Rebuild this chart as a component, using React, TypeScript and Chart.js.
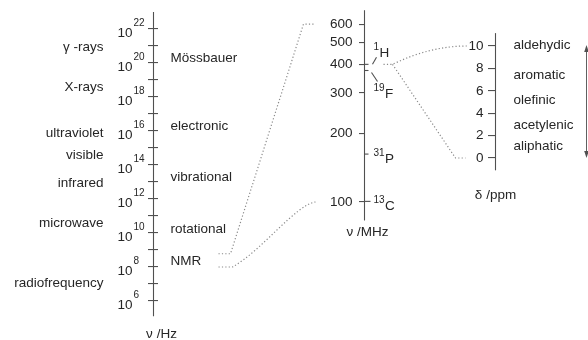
import React, { useEffect, useRef } from 'react';
import { Chart, registerables } from 'chart.js';

Chart.register(...registerables);

// ---------------- data ----------------
// frequency axis (Hz, logarithmic) – exponents of ten
const hzTickExponents = [6, 7, 8, 9, 10, 11, 12, 13, 14, 15, 16, 17, 18, 19, 20, 21, 22];
const hzLabelExponents = [6, 8, 10, 12, 14, 16, 18, 20, 22];
const hzAxisExponents = [5.1, 23];
const regionLabels = ['γ -rays', 'X-rays', 'ultraviolet', 'visible', 'infrared', 'microwave', 'radiofrequency'];
const regionExponents = [20.94, 18.55, 15.86, 14.59, 12.92, 10.57, 7.04];
const transitionLabels = ['Mössbauer', 'electronic', 'vibrational', 'rotational', 'NMR'];
const transitionExponents = [20.27, 16.29, 13.27, 10.22, 8.35];
const nmrRangeHz = [1e8, 6e8];

// NMR frequency axis (MHz, logarithmic)
const mhzTicks = [100, 200, 300, 400, 500, 600];
const mhzAxisRange = [83, 690];
const nucleusMass = ['1', '19', '31', '13'];
const nucleusSymbol = ['H', 'F', 'P', 'C'];
const nucleusMHz = [400, 376, 162, 100.6];
const nmrRangeMHz = [100, 600];
const protonMHz = 400;

// chemical shift axis (ppm, linear)
const ppmTicks = [0, 2, 4, 6, 8, 10];
const ppmAxisRange = [-1.1, 11.15];
const shiftLabels = ['aldehydic', 'aromatic', 'olefinic', 'acetylenic', 'aliphatic'];
const shiftPpm = [10.09, 7.41, 5.18, 2.95, 1.07];
const shiftArrowPpm = [0, 10.1];

// ---------------- layout / style ----------------
const W = 588;
const H = 340;
const HZ_X = 153;
const MHZ_X = 364;
const PPM_X = 495;
const FONT = '"Liberation Sans", Arial, Helvetica, sans-serif';
const TEXT = '#262626';
const AXIS = '#505050';
const DOT = '#8a8a8a';
const SUP = 10;

function drawText(ctx: CanvasRenderingContext2D, s: string, x: number, y: number, size: number, align: CanvasTextAlign) {
  ctx.font = `${size}px ${FONT}`;
  ctx.textAlign = align;
  ctx.textBaseline = 'middle';
  ctx.fillStyle = TEXT;
  ctx.fillText(s, x, y);
}

function seg(ctx: CanvasRenderingContext2D, x1: number, y1: number, x2: number, y2: number) {
  ctx.beginPath();
  ctx.moveTo(x1, y1);
  ctx.lineTo(x2, y2);
  ctx.stroke();
}

const diagramPlugin = {
  id: 'diagram',
  afterDraw(chart: any) {
    const ctx: CanvasRenderingContext2D = chart.ctx;
    const sx = chart.scales.x;
    const hz = chart.scales.yHz;
    const mhz = chart.scales.yMHz;
    const ppm = chart.scales.yPpm;
    const px = (v: number) => sx.getPixelForValue(v);
    const yHzE = (e: number) => hz.getPixelForValue(Math.pow(10, e));
    const yHz = (v: number) => hz.getPixelForValue(v);
    const yM = (v: number) => mhz.getPixelForValue(v);
    const yP = (v: number) => ppm.getPixelForValue(v);
    const a1 = px(HZ_X) + 0.5;
    const a2 = px(MHZ_X) + 0.5;
    const a3 = px(PPM_X) + 0.5;

    ctx.save();
    ctx.strokeStyle = AXIS;
    ctx.lineWidth = 1.1;

    // axis lines
    seg(ctx, a1, yHzE(hzAxisExponents[1]), a1, yHzE(hzAxisExponents[0]));
    seg(ctx, a2, yM(mhzAxisRange[1]), a2, yM(mhzAxisRange[0]));
    seg(ctx, a3, yP(ppmAxisRange[1]), a3, yP(ppmAxisRange[0]));

    // ---- Hz axis labels ----
    hzLabelExponents.forEach((e) => {
      const y = yHzE(e);
      drawText(ctx, '10', a1 - 21, y + 4, 13.5, 'right');
      drawText(ctx, String(e), a1 - 20, y - 6, SUP, 'left');
    });
    regionLabels.forEach((s, i) => drawText(ctx, s, a1 - 50, yHzE(regionExponents[i]), 13.5, 'right'));
    transitionLabels.forEach((s, i) => drawText(ctx, s, a1 + 17, yHzE(transitionExponents[i]), 13.5, 'left'));
    drawText(ctx, 'ν /Hz', a1 + 8, yHzE(hzAxisExponents[0]) + 18, 13.5, 'center');

    // ---- MHz axis ----
    mhzTicks.forEach((v) => drawText(ctx, String(v), a2 - 12, yM(v), 13.5, 'right'));
    nucleusMHz.forEach((f, i) => {
      const y = yM(f);
      ctx.strokeStyle = AXIS;
      seg(ctx, a2, y, a2 + (i === 3 ? 6 : 4), y);
      let anchor = y;
      if (nucleusSymbol[i] === 'H') {
        seg(ctx, a2 + 8, y, a2 + 12, y - 7);
        anchor = y - 16;
      } else if (nucleusSymbol[i] === 'F') {
        seg(ctx, a2 + 7, y + 2, a2 + 13, y + 11);
        anchor = y + 19;
      }
      ctx.font = `${SUP}px ${FONT}`;
      const w = ctx.measureText(nucleusMass[i]).width;
      drawText(ctx, nucleusMass[i], a2 + 9, anchor - 1, SUP, 'left');
      drawText(ctx, nucleusSymbol[i], a2 + 9 + w + 0.5, anchor + 5, 13.5, 'left');
    });
    drawText(ctx, 'ν /MHz', a2 + 3, yM(mhzAxisRange[0]) + 12, 13.5, 'center');

    // ---- ppm axis ----
    ppmTicks.forEach((v) => drawText(ctx, String(v), a3 - 12, yP(v), 13.5, 'right'));
    shiftLabels.forEach((s, i) => drawText(ctx, s, a3 + 18, yP(shiftPpm[i]), 13.5, 'left'));
    drawText(ctx, 'δ /ppm', a3, yP(ppmAxisRange[0]) + 25, 13.5, 'center');

    // double headed arrow
    const ax = a3 + 91;
    const yTop = yP(shiftArrowPpm[1]);
    const yBot = yP(shiftArrowPpm[0]);
    ctx.strokeStyle = '#606060';
    ctx.lineWidth = 1;
    seg(ctx, ax, yTop + 3, ax, yBot - 3);
    ctx.fillStyle = '#505050';
    ctx.beginPath();
    ctx.moveTo(ax, yTop);
    ctx.lineTo(ax - 2.3, yTop + 7);
    ctx.lineTo(ax + 2.3, yTop + 7);
    ctx.closePath();
    ctx.fill();
    ctx.beginPath();
    ctx.moveTo(ax, yBot);
    ctx.lineTo(ax - 2.3, yBot - 7);
    ctx.lineTo(ax + 2.3, yBot - 7);
    ctx.closePath();
    ctx.fill();

    // ---- dotted connectors ----
    ctx.strokeStyle = DOT;
    ctx.lineWidth = 1.2;
    ctx.setLineDash([1.2, 2.2]);
    // NMR (Hz) -> MHz axis, upper limit
    const sx0 = a1 + 65;
    const yUpHz = yHz(nmrRangeHz[1]);
    const yUpM = yM(nmrRangeMHz[1]);
    ctx.beginPath();
    ctx.moveTo(sx0, yUpHz);
    ctx.lineTo(sx0 + 12, yUpHz);
    ctx.lineTo(a2 - 61, yUpM);
    ctx.lineTo(a2 - 49, yUpM);
    ctx.stroke();
    // lower limit
    const yLoHz = yHz(nmrRangeHz[0]);
    const yLoM = yM(nmrRangeMHz[0]);
    const sxs = sx0 + 14;
    const ex = a2 - 49;
    ctx.beginPath();
    ctx.moveTo(sx0, yLoHz);
    ctx.lineTo(sxs, yLoHz);
    ctx.bezierCurveTo(sxs + 30, yLoHz - 17, ex - 20, yLoM + 3, ex, yLoM);
    ctx.stroke();
    // 400 MHz proton -> ppm scale
    const yPr = yM(protonMHz);
    const rs = a2 + 19;
    const rb = a2 + 28;
    ctx.beginPath();
    ctx.moveTo(rs, yPr);
    ctx.lineTo(rb, yPr);
    ctx.quadraticCurveTo(a3 - 65, yP(shiftArrowPpm[1]) + 1, a3 - 28, yP(ppmTicks[5]));
    ctx.stroke();
    ctx.beginPath();
    ctx.moveTo(rb, yPr);
    ctx.lineTo(a3 - 40, yP(ppmTicks[0]));
    ctx.lineTo(a3 - 30, yP(ppmTicks[0]));
    ctx.stroke();
    ctx.setLineDash([]);
    ctx.restore();
  },
};

function tickSetter(values: number[]) {
  return (scale: any) => {
    scale.ticks = values.map((v) => ({ value: v }));
  };
}

export default function App() {
  const ref = useRef<HTMLCanvasElement | null>(null);

  useEffect(() => {
    if (!ref.current) return;
    const gridBase = { drawOnChartArea: false, drawTicks: true, color: AXIS, lineWidth: 1.1 };
    const chart = new Chart(ref.current, {
      type: 'scatter',
      data: { datasets: [] },
      plugins: [diagramPlugin],
      options: {
        animation: false,
        responsive: true,
        maintainAspectRatio: false,
        layout: { padding: 0 },
        events: [],
        plugins: { legend: { display: false }, tooltip: { enabled: false }, title: { display: false } },
        scales: {
          x: { type: 'linear', min: 0, max: W, display: false },
          yHz: {
            axis: 'y',
            type: 'logarithmic',
            bounds: 'data',
            min: Math.pow(10, 3.706),
            max: Math.pow(10, 23.706),
            position: { x: HZ_X + 5 },
            border: { display: false },
            ticks: { display: false },
            grid: { ...gridBase, tickLength: 10 },
            afterBuildTicks: tickSetter(hzTickExponents.map((e) => Math.pow(10, e))),
          },
          yMHz: {
            axis: 'y',
            type: 'logarithmic',
            bounds: 'data',
            min: 24.9,
            max: 764.8,
            position: { x: MHZ_X },
            border: { display: false },
            ticks: { display: false },
            grid: { ...gridBase, tickLength: 5 },
            afterBuildTicks: tickSetter(mhzTicks),
          },
          yPpm: {
            axis: 'y',
            type: 'linear',
            bounds: 'data',
            min: -16.25,
            max: 14.107,
            position: { x: PPM_X },
            border: { display: false },
            ticks: { display: false },
            grid: { ...gridBase, tickLength: 7 },
            afterBuildTicks: tickSetter(ppmTicks),
          },
        },
      } as any,
    });
    return () => chart.destroy();
  }, []);

  return (
    <div style={{ position: 'fixed', left: 0, top: 0, width: W, height: H, background: '#fff' }}>
      <canvas ref={ref} style={{ display: 'block' }} />
    </div>
  );
}
